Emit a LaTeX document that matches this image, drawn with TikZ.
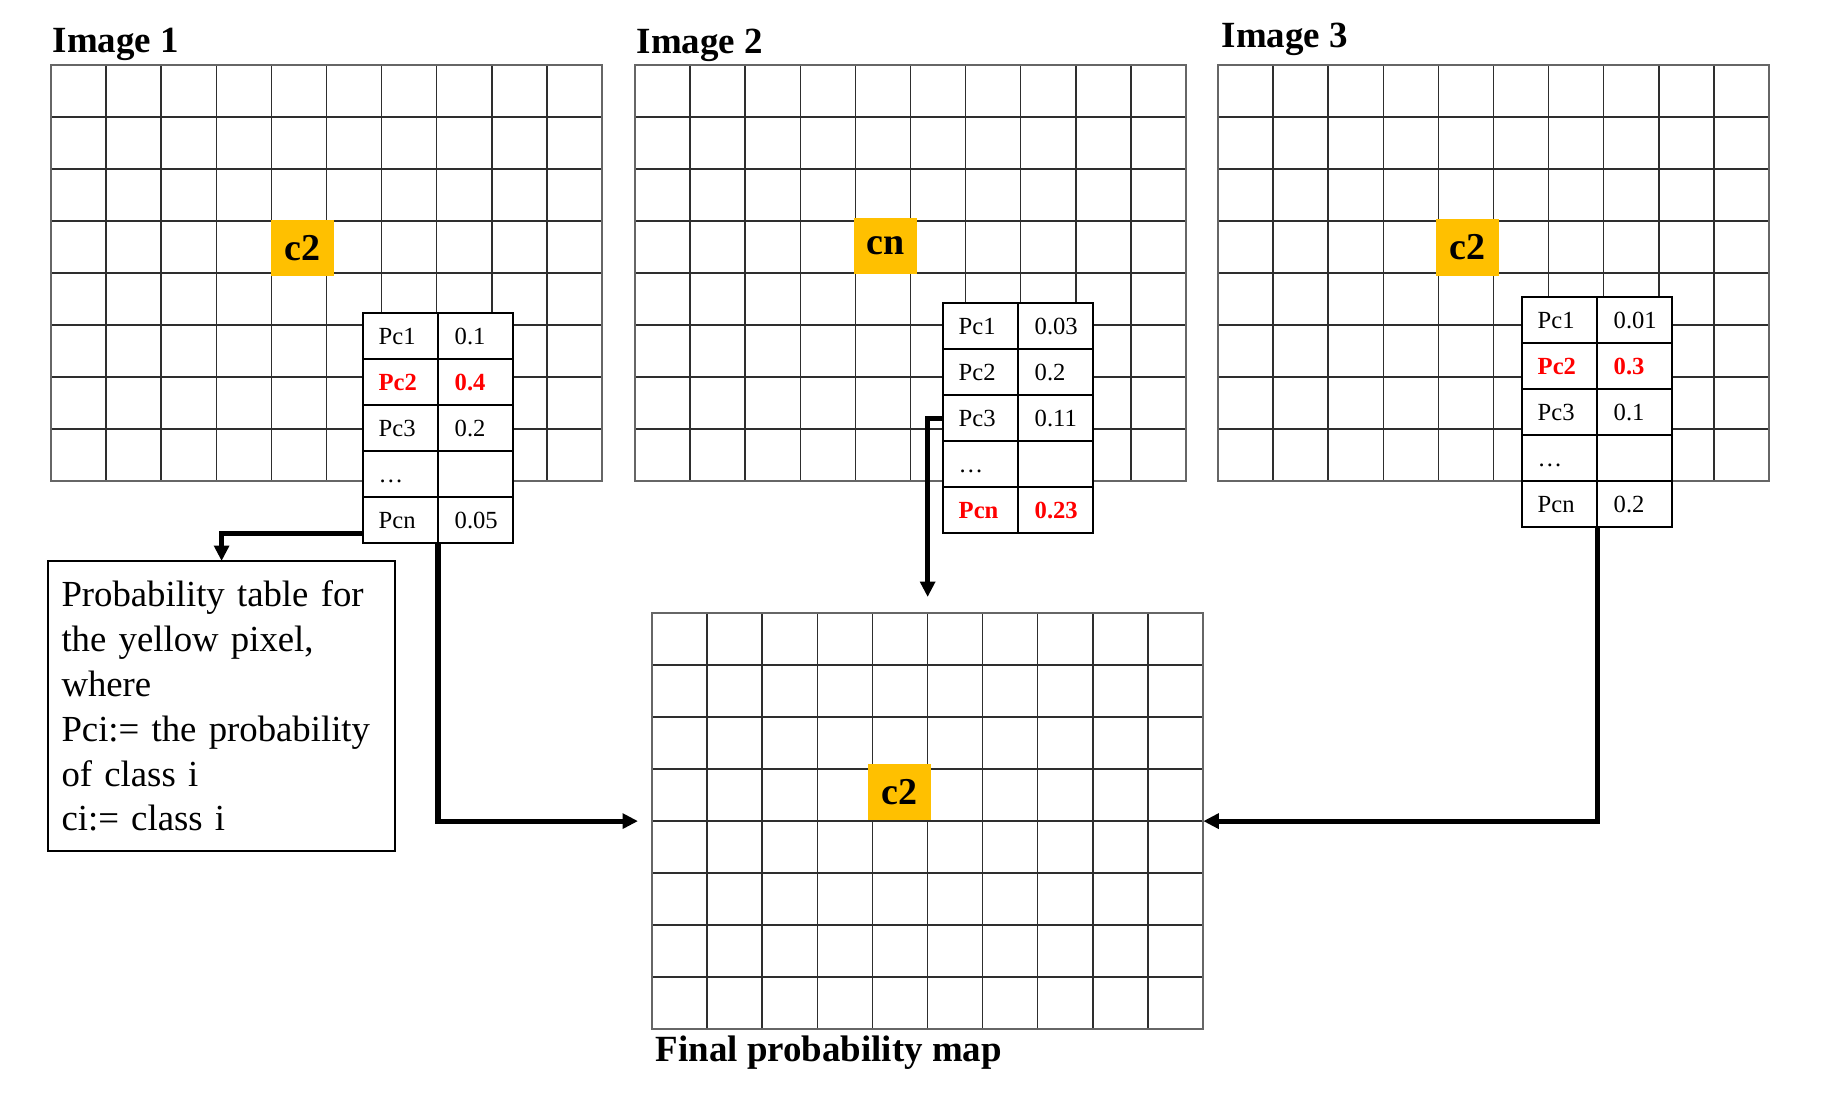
\documentclass[tikz,border=0pt]{standalone}
\usepackage{fontspec}
\setmainfont{Liberation Serif}
\usepackage{tikz}
\usetikzlibrary{arrows.meta,calc,positioning}
\definecolor{pixelgold}{HTML}{FFC000}
\definecolor{hotred}{HTML}{FF0000}
\definecolor{gridgray}{HTML}{2E2E2E}
\definecolor{framegray}{HTML}{666666}
\tikzset{
  gridline/.style={gridgray, line width=0.42pt},
  pixmap/.style={draw=framegray, line width=0.55pt, minimum width=5.51cm, minimum height=4.16cm, inner sep=0pt, outer sep=0pt, anchor=north west},
  pixel/.style={fill=pixelgold, minimum width=0.63cm, minimum height=0.56cm, inner sep=0pt, font=\fontsize{10.8}{12}\selectfont\bfseries},
  maptitle/.style={anchor=base west, inner sep=0pt, font=\fontsize{10.5}{12}\selectfont\bfseries},
  probtable/.style={draw=black, fill=white, line width=0.65pt, minimum width=1.5cm, minimum height=2.3cm, inner sep=0pt, outer sep=0pt, anchor=north west},
  tabline/.style={black, line width=0.65pt},
  cellt/.style={anchor=base west, inner sep=0pt, font=\fontsize{7}{8}\selectfont},
  cold/.style={},
  hot/.style={hotred, font=\fontsize{7}{8}\selectfont\bfseries},
  notebox/.style={draw=black, line width=0.65pt, anchor=north west, align=left, text width=3.2cm, inner xsep=0.135cm, minimum height=2.9cm, outer sep=0pt, font=\fontsize{10.45}{12.75}\selectfont},
  flow/.style={-{Triangle[length=4.4pt, width=4.2pt]}, line width=1.45pt}
}
\begin{document}
\begin{tikzpicture}[x=0.01cm, y=-0.01cm]
  \useasboundingbox (0,0) rectangle (1823,1095);
  \foreach \g/\gx/\gy in {img1/51/65, img2/635/65, img3/1218/65, final/652/613}{
    \foreach \i in {1,...,9} \draw[gridline] (\gx+\i*55.1,\gy) -- ++(0,416);
    \foreach \j in {1,...,7} \draw[gridline] (\gx,\gy+\j*52) -- ++(551,0);
    \node[pixmap] (\g) at (\gx,\gy) {};
  }
  \node[pixel] (px1) at (302.5,248) {c2};
  \node[pixel] (px2) at (885.5,246) {cn};
  \node[pixel] (px3) at (1467.5,247.5) {c2};
  \node[pixel] (px4) at (899.5,792) {c2};
  \node[maptitle] (lab1) at (52,53) {Image 1};
  \node[maptitle] (lab2) at (636,54) {Image 2};
  \node[maptitle] (lab3) at (1221,48) {Image 3};
  \node[maptitle] (labf) at (655,1062) {Final probability map};
  \foreach \t/\tx/\ty in {tab1/363/313, tab2/943/303, tab3/1522/297}{
    \node[probtable] (\t) at (\tx,\ty) {};
    \draw[tabline] (\tx+75,\ty) -- ++(0,230);
    \foreach \k in {1,...,4} \draw[tabline] (\tx,\ty+46*\k) -- ++(150,0);
  }
  \foreach \k/\a/\b/\s in {0/Pc1/0.1/cold, 1/Pc2/0.4/hot, 2/Pc3/0.2/cold, 3/\dots//cold, 4/Pcn/0.05/cold}{
    \node[cellt, \s] (tab1a\k) at ($(tab1.north west)+(15,46*\k+32)$) {\a};
    \node[cellt, \s] (tab1b\k) at ($(tab1.north west)+(91,46*\k+32)$) {\b};
  }
  \foreach \k/\a/\b/\s in {0/Pc1/0.03/cold, 1/Pc2/0.2/cold, 2/Pc3/0.11/cold, 3/\dots//cold, 4/Pcn/0.23/hot}{
    \node[cellt, \s] (tab2a\k) at ($(tab2.north west)+(15,46*\k+32)$) {\a};
    \node[cellt, \s] (tab2b\k) at ($(tab2.north west)+(91,46*\k+32)$) {\b};
  }
  \foreach \k/\a/\b/\s in {0/Pc1/0.01/cold, 1/Pc2/0.3/hot, 2/Pc3/0.1/cold, 3/\dots//cold, 4/Pcn/0.2/cold}{
    \node[cellt, \s] (tab3a\k) at ($(tab3.north west)+(15,46*\k+32)$) {\a};
    \node[cellt, \s] (tab3b\k) at ($(tab3.north west)+(91,46*\k+32)$) {\b};
  }
  \node[notebox] (note) at (48,561) {Probability table for\\the yellow pixel,\\where\\Pci:= the probability\\of class i\\ci:= class i};
  \draw[flow] ([yshift=2.8pt]tab1.south west) -| (note.north);
  \draw[flow, shorten >=0.14cm] (tab1.south) |- (final.west);
  \draw[flow, shorten >=0.16cm] (tab2.west) -| (final.north);
  \draw[flow] (tab3.south) |- (final.east);
\end{tikzpicture}
\end{document}
